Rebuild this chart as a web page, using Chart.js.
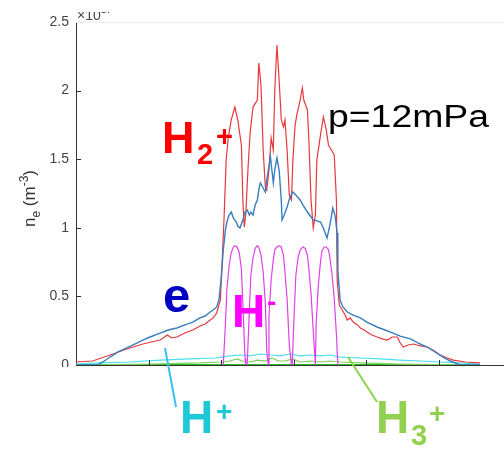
<!DOCTYPE html>
<html>
<head>
<meta charset="utf-8">
<script src="https://cdn.jsdelivr.net/npm/chart.js@4.4.1/dist/chart.umd.min.js"></script>
<style>
  html, body { margin: 0; padding: 0; background: #fff; }
</style>
</head>
<body>
<canvas id="chart" width="504" height="449"></canvas>
<script>
// position along the source (arbitrary units), density in 1e17 m^-3
const yTickLabels = ['0', '0.5', '1', '1.5', '2', '2.5'];

const h2pX = [0, 0.23, 0.47, 0.70, 0.92, 1.16, 1.26, 1.32, 1.39, 1.50, 1.61, 1.71, 1.78, 1.85, 1.89, 1.94, 1.99, 2.01, 2.04, 2.07,
  2.10, 2.14, 2.19, 2.23, 2.28, 2.30, 2.32, 2.34, 2.37, 2.40, 2.44, 2.50, 2.52, 2.55, 2.58, 2.61, 2.63, 2.66, 2.69, 2.72,
  2.74, 2.77, 2.80, 2.83, 2.86, 2.88, 2.91, 2.94, 2.97, 2.99, 3.02, 3.05, 3.09, 3.12, 3.14, 3.19, 3.21, 3.24, 3.27, 3.30,
  3.32, 3.37, 3.41, 3.45, 3.48, 3.52, 3.56, 3.59, 3.60, 3.63, 3.67, 3.71, 3.74, 3.78, 3.82, 3.88, 3.92, 3.97, 4.01, 4.08,
  4.15, 4.22, 4.29, 4.36, 4.43, 4.47, 4.51, 4.58, 4.65, 4.70, 4.77, 4.84, 4.92, 5.02, 5.12, 5.20, 5.37, 5.57];
const h2pY = [0.022, 0.029, 0.073, 0.117, 0.153, 0.182, 0.219, 0.197, 0.204, 0.233, 0.255, 0.284, 0.299, 0.328, 0.343, 0.379, 0.474, 0.692, 1.057, 1.494,
  1.662, 1.786, 1.880, 1.786, 1.603, 1.203, 1.006, 1.093, 1.421, 1.691, 1.880, 1.931, 2.201, 2.041, 1.567, 1.297, 1.276, 1.421, 1.655, 1.567,
  2.004, 2.332, 2.077, 1.786, 1.735, 1.786, 1.567, 1.239, 1.203, 1.494, 1.749, 1.837, 1.931, 2.019, 1.931, 1.859, 1.640, 1.203, 0.999, 1.093,
  1.494, 1.676, 1.808, 1.713, 1.603, 1.567, 1.531, 1.203, 0.620, 0.437, 0.401, 0.364, 0.328, 0.343, 0.313, 0.292, 0.270, 0.255, 0.241, 0.219,
  0.204, 0.190, 0.182, 0.204, 0.204, 0.160, 0.131, 0.146, 0.153, 0.146, 0.138, 0.131, 0.109, 0.073, 0.051, 0.036, 0.022, 0.015];

const eX = [0, 0.29, 0.37, 0.47, 0.58, 0.70, 0.81, 0.92, 1.02, 1.16, 1.27, 1.39, 1.50, 1.61, 1.71, 1.78, 1.85, 1.89, 1.94, 1.97,
  2.00, 2.03, 2.06, 2.08, 2.11, 2.14, 2.17, 2.21, 2.23, 2.26, 2.30, 2.33, 2.36, 2.39, 2.41, 2.44, 2.47, 2.50, 2.52, 2.54,
  2.58, 2.61, 2.63, 2.68, 2.70, 2.72, 2.74, 2.77, 2.80, 2.83, 2.84, 2.87, 2.91, 2.95, 2.99, 3.03, 3.09, 3.13, 3.19, 3.23,
  3.27, 3.32, 3.37, 3.41, 3.46, 3.50, 3.54, 3.57, 3.60, 3.61, 3.64, 3.68, 3.74, 3.82, 3.92, 4.01, 4.15, 4.26, 4.37, 4.47,
  4.61, 4.72, 4.84, 4.95, 5.06, 5.16, 5.30, 5.57];
const eY = [0, 0, 0.022, 0.058, 0.095, 0.124, 0.153, 0.182, 0.204, 0.233, 0.255, 0.270, 0.292, 0.313, 0.343, 0.357, 0.386, 0.401, 0.423, 0.474,
  0.620, 0.838, 0.984, 1.042, 1.093, 1.115, 1.071, 1.042, 1.013, 0.999, 1.057, 1.115, 1.130, 1.093, 1.115, 1.093, 1.166, 1.203, 1.276, 1.327,
  1.290, 1.261, 1.348, 1.516, 1.421, 1.327, 1.421, 1.509, 1.421, 1.203, 1.057, 1.093, 1.152, 1.224, 1.261, 1.239, 1.203, 1.166, 1.115, 1.086,
  1.057, 1.050, 1.042, 0.999, 0.926, 1.020, 1.144, 1.093, 0.962, 0.692, 0.474, 0.423, 0.386, 0.364, 0.343, 0.313, 0.277, 0.255, 0.233, 0.211,
  0.190, 0.160, 0.131, 0.095, 0.058, 0.029, 0, 0];

const hmX = [2.03, 2.06, 2.08, 2.11, 2.14, 2.17, 2.19, 2.22, 2.25, 2.28, 2.30, 2.33, 2.34,
  2.36, 2.39, 2.41, 2.44, 2.47, 2.50, 2.52, 2.55, 2.58, 2.61, 2.63, 2.65,
  2.66, 2.69, 2.72, 2.74, 2.77, 2.80, 2.83, 2.86, 2.88, 2.91, 2.94, 2.97,
  2.98, 3.01, 3.03, 3.06, 3.09, 3.13, 3.16, 3.19, 3.21, 3.24, 3.27, 3.30,
  3.31, 3.34, 3.37, 3.39, 3.42, 3.45, 3.48, 3.50, 3.53, 3.56, 3.59, 3.61];
const hmY = [0, 0.30, 0.55, 0.72, 0.82, 0.86, 0.87, 0.86, 0.82, 0.70, 0.45, 0.05, 0,
  0, 0.40, 0.65, 0.78, 0.85, 0.87, 0.86, 0.80, 0.68, 0.45, 0.10, 0,
  0.35, 0.62, 0.77, 0.84, 0.86, 0.87, 0.86, 0.80, 0.68, 0.48, 0.15, 0,
  0, 0.40, 0.65, 0.78, 0.84, 0.86, 0.85, 0.80, 0.70, 0.52, 0.25, 0,
  0.30, 0.58, 0.75, 0.83, 0.86, 0.86, 0.84, 0.78, 0.66, 0.48, 0.22, 0];

const hpX = [0, 0.33, 0.74, 1.16, 1.57, 1.92, 2.01, 2.12, 2.26, 2.40, 2.54, 2.68, 2.81, 2.95, 3.09, 3.23, 3.37, 3.50, 3.64, 3.92, 4.19, 4.47, 4.74, 5.02, 5.30, 5.57];
const hpY = [0.007, 0.015, 0.022, 0.036, 0.044, 0.051, 0.058, 0.066, 0.073, 0.066, 0.080, 0.073, 0.066, 0.080, 0.066, 0.073, 0.066, 0.073, 0.058, 0.051, 0.044, 0.036, 0.029, 0.022, 0.015, 0.007];

const h3pX = [0, 1.02, 1.71, 2.01, 2.12, 2.22, 2.29, 2.40, 2.50, 2.61, 2.70, 2.79, 2.88, 2.99, 3.09, 3.23, 3.37, 3.50, 3.64, 3.92, 4.47, 5.57];
const h3pY = [0, 0.007, 0.015, 0.022, 0.029, 0.044, 0.029, 0.022, 0.036, 0.029, 0.051, 0.029, 0.029, 0.044, 0.022, 0.029, 0.022, 0.029, 0.022, 0.015, 0.007, 0];

const baseX = [0, 5.57];
const baseY = [0, 0];

const FONT = '"Liberation Sans", Arial, sans-serif';

function pts(xs, ys) {
    return xs.map((x, i) => ({ x: x, y: ys[i] }));
}

function line(ctx, x1, y1, x2, y2) {
    ctx.beginPath();
    ctx.moveTo(x1, y1);
    ctx.lineTo(x2, y2);
    ctx.stroke();
}

function text(ctx, t, x, y, size, color, bold) {
    ctx.font = (bold ? 'bold ' : '') + size + 'px ' + FONT;
    ctx.fillStyle = color;
    ctx.fillText(t, x, y);
    return ctx.measureText(t).width;
}

const decor = {
    id: 'decor',
    afterDraw(chart) {
        const { ctx, chartArea: a, scales } = chart;
        ctx.save();

        // inward tick marks, matlab style
        ctx.strokeStyle = '#333';
        ctx.lineWidth = 1;
        scales.y.ticks.forEach(t => {
            const py = Math.round(scales.y.getPixelForValue(t.value)) + 0.5;
            line(ctx, a.left, py, a.left + 5, py);
        });
        scales.x.ticks.forEach(t => {
            if (t.value === 0) return;
            const px = Math.round(scales.x.getPixelForValue(t.value)) + 0.5;
            line(ctx, px, a.bottom, px, a.bottom - 5);
        });
        ctx.strokeStyle = '#eeeeee';
        line(ctx, a.left, a.top + 0.5, a.right, a.top + 0.5);

        // bottom-left of the figure is cut off in the source
        ctx.fillStyle = '#fff';
        ctx.fillRect(0, 367, 72, 82);

        // exponent, partly cut at the top
        ctx.save();
        ctx.beginPath();
        ctx.rect(0, 12, 504, 437);
        ctx.clip();
        ctx.textBaseline = 'alphabetic';
        let w = text(ctx, '\u00d710', 77, 20, 14, '#444');
        text(ctx, '17', 77 + w, 13, 10, '#444');
        ctx.restore();

        // y title
        ctx.save();
        ctx.translate(35, 227);
        ctx.rotate(-Math.PI / 2);
        let cx = 0;
        cx += text(ctx, 'n', cx, 0, 17, '#333');
        cx += text(ctx, 'e', cx, 5, 12, '#333');
        cx += text(ctx, ' (m', cx, 0, 17, '#333');
        cx += text(ctx, '-3', cx, -7, 12, '#333');
        text(ctx, ')', cx, 0, 17, '#333');
        ctx.restore();

        // pointers
        ctx.lineWidth = 2;
        ctx.strokeStyle = '#3cc0ee';
        line(ctx, 165, 348, 176, 407);
        ctx.strokeStyle = '#92d050';
        line(ctx, 348, 357, 377, 402);

        // species labels
        text(ctx, 'H', 162, 153, 45, '#ff0000', true);
        text(ctx, '2', 197, 164, 29, '#ff0000', true);
        text(ctx, '+', 216, 146, 29, '#ff0000', true);

        text(ctx, 'e', 163, 312, 49, '#0000c0', true);

        text(ctx, 'H', 232, 327, 46, '#ff00ff', true);
        text(ctx, '-', 267, 311, 28, '#ff00ff', true);

        text(ctx, 'H', 180, 433, 46, '#1ec8d6', true);
        text(ctx, '+', 216, 421, 28, '#1ec8d6', true);

        text(ctx, 'H', 376, 433, 46, '#92d050', true);
        text(ctx, '3', 411, 445, 29, '#92d050', true);
        text(ctx, '+', 429, 423, 28, '#92d050', true);

        // pressure
        ctx.font = '31px ' + FONT;
        ctx.fillStyle = '#000';
        const pw = ctx.measureText('p=12mPa').width;
        ctx.translate(328, 127);
        ctx.scale(161 / pw, 1);
        ctx.fillText('p=12mPa', 0, 0);

        ctx.restore();
    }
};

new Chart(document.getElementById('chart'), {
    type: 'line',
    data: {
        datasets: [
            { label: 'e', data: pts(eX, eY), borderColor: '#3a7dbd', borderWidth: 1.4 },
            { label: 'H2+', data: pts(h2pX, h2pY), borderColor: '#e8383c', borderWidth: 1.2 },
            { label: 'H-', data: pts(hmX, hmY), borderColor: '#e040e8', borderWidth: 1.2 },
            { label: 'H+', data: pts(hpX, hpY), borderColor: '#48e0f0', borderWidth: 1.2 },
            { label: 'H3+', data: pts(h3pX, h3pY), borderColor: '#7fd05a', borderWidth: 1.2 },
            { label: 'base', data: pts(baseX, baseY), borderColor: '#22c122', borderWidth: 2 }
        ]
    },
    options: {
        responsive: false,
        animation: false,
        events: [],
        layout: { padding: { top: 22, right: 0, bottom: 0, left: 0 } },
        plugins: { legend: { display: false }, tooltip: { enabled: false } },
        elements: { point: { radius: 0 }, line: { tension: 0, fill: false } },
        scales: {
            x: {
                type: 'linear', min: 0, max: 5.9,
                ticks: { display: false, stepSize: 1 },
                grid: { display: false, drawTicks: false },
                border: { color: '#333', width: 1 },
                afterFit: s => { s.height = 84; }
            },
            y: {
                min: 0, max: 2.5,
                ticks: {
                    stepSize: 0.5, padding: 7, color: '#444',
                    font: { family: FONT, size: 14 },
                    callback: (v, i) => yTickLabels[i]
                },
                grid: { display: false, drawTicks: false },
                border: { color: '#333', width: 1 },
                afterFit: s => { s.width = 76; }
            }
        }
    },
    plugins: [decor]
});
</script>
</body>
</html>
